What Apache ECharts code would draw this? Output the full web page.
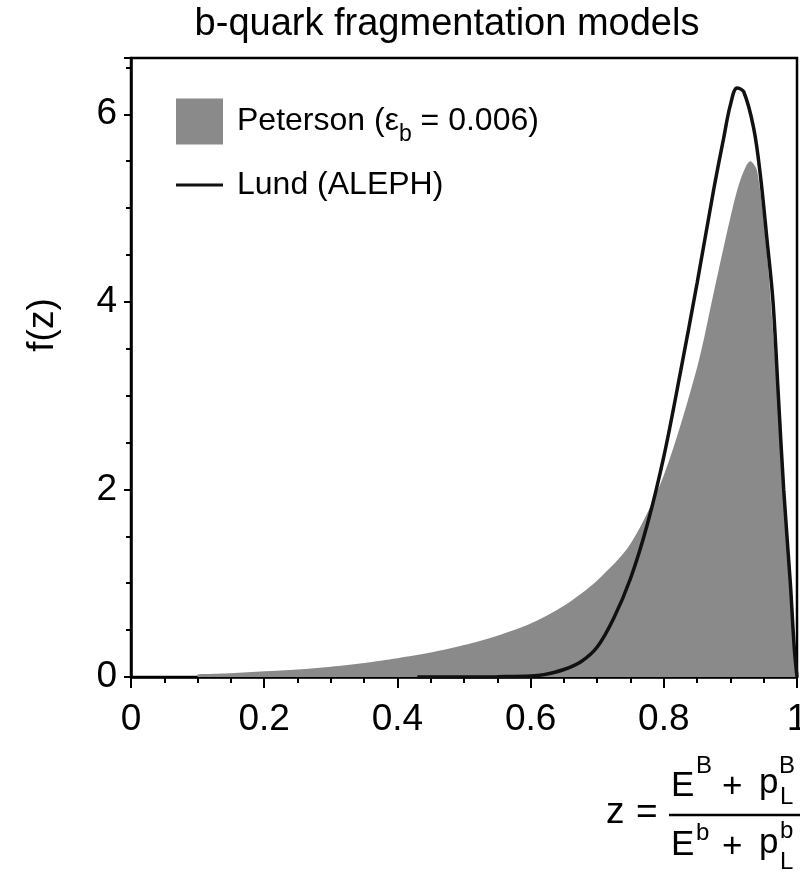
<!DOCTYPE html>
<html>
<head>
<meta charset="utf-8">
<title>b-quark fragmentation models</title>
<script src="https://cdn.jsdelivr.net/npm/echarts@6/dist/echarts.min.js"></script>
<style>
  html, body { margin: 0; padding: 0; background: #fff; }
  #chart { width: 800px; height: 875px; }
</style>
</head>
<body>
<div id="chart"></div>
<script>
// Peterson fragmentation function (epsilon_b = 0.006), shaded area
const petersonZ = [0.10, 0.15, 0.20, 0.25, 0.30, 0.35, 0.40, 0.45, 0.50, 0.55, 0.60, 0.65, 0.70, 0.75, 0.80, 0.85, 0.875, 0.90, 0.915, 0.93, 0.94, 0.953, 0.965, 0.977, 0.988, 0.995, 1.0];
const petersonF = [0.03, 0.04, 0.06, 0.08, 0.11, 0.15, 0.20, 0.26, 0.34, 0.44, 0.57, 0.76, 1.03, 1.42, 2.15, 3.30, 4.10, 4.90, 5.30, 5.50, 5.40, 4.66, 3.60, 2.40, 1.25, 0.50, 0.0];

// Lund string fragmentation (ALEPH tune), solid curve
const lundZ = [0.43, 0.50, 0.55, 0.60, 0.62, 0.65, 0.675, 0.70, 0.725, 0.75, 0.775, 0.80, 0.825, 0.85, 0.875, 0.89, 0.90, 0.91, 0.92, 0.935, 0.945, 0.955, 0.964, 0.972, 0.98, 0.99, 0.996, 1.0];
const lundF = [0.0, 0.0, 0.003, 0.01, 0.025, 0.08, 0.16, 0.32, 0.63, 1.05, 1.62, 2.35, 3.25, 4.20, 5.20, 5.75, 6.10, 6.28, 6.24, 5.85, 5.35, 4.66, 4.00, 3.00, 2.00, 1.00, 0.30, 0.0];

// axis ticks
const xTicks = [0, 0.2, 0.4, 0.6, 0.8, 1];
const yTicks = [0, 2, 4, 6];

const FONT = '"Liberation Sans", Arial, Helvetica, sans-serif';

const petersonData = petersonZ.map((z, i) => [z, petersonF[i]]);
const lundData = lundZ.map((z, i) => [z, lundF[i]]);

const chart = echarts.init(document.getElementById('chart'), null, { renderer: 'canvas' });

// pieces of the z definition below the x axis
const formulaPieces = [
  { t: 'z', x: 606, y: 813, s: 37 },
  { t: '=', x: 636, y: 813, s: 37 },
  { t: 'E', x: 671, y: 786, s: 35 },
  { t: 'B', x: 696, y: 766, s: 24 },
  { t: '+', x: 722, y: 787, s: 35 },
  { t: 'p', x: 759, y: 783, s: 35 },
  { t: 'B', x: 779, y: 766, s: 24 },
  { t: 'L', x: 780, y: 797, s: 24 },
  { t: 'E', x: 671, y: 845, s: 35 },
  { t: 'b', x: 696, y: 833, s: 24 },
  { t: '+', x: 722, y: 847, s: 35 },
  { t: 'p', x: 759, y: 843, s: 35 },
  { t: 'b', x: 780, y: 831, s: 24 },
  { t: 'L', x: 780, y: 862, s: 24 }
];

const graphics = formulaPieces.map(p => ({
  type: 'text',
  x: p.x,
  y: p.y,
  style: {
    text: p.t,
    fill: '#000',
    font: p.s + 'px ' + FONT,
    align: 'left',
    verticalAlign: 'middle'
  }
}));
graphics.push({
  type: 'line',
  shape: { x1: 669, y1: 815, x2: 800, y2: 815 },
  style: { stroke: '#000', lineWidth: 2.5 }
});
graphics.push({
  type: 'text',
  x: 43,
  y: 325,
  rotation: Math.PI / 2,
  style: {
    text: 'f(z)',
    fill: '#000',
    font: '37px ' + FONT,
    align: 'center',
    verticalAlign: 'middle'
  }
});

const option = {
  animation: false,
  backgroundColor: '#fff',
  textStyle: { fontFamily: FONT, color: '#000' },
  title: {
    text: 'b-quark fragmentation models',
    left: 442,
    textAlign: 'center',
    top: 1,
    textStyle: { fontFamily: FONT, fontSize: 38, fontWeight: 'normal', color: '#000' }
  },
  legend: [
    {
      data: ['Peterson'],
      left: 171,
      top: 92,
      orient: 'vertical',
      itemWidth: 47,
      itemHeight: 46,
      icon: 'rect',
      selectedMode: false,
      formatter: () => '{n|Peterson (ε}{sub|b}{n| = 0.006)}',
      textStyle: {
        padding: [0, 0, 0, 9],
        rich: {
          n: { fontFamily: FONT, fontSize: 32, color: '#000', lineHeight: 36 },
          sub: { fontFamily: FONT, fontSize: 23, color: '#000', lineHeight: 24, padding: [26, 0, 0, 0] }
        }
      }
    },
    {
      data: ['Lund (ALEPH)'],
      left: 171,
      top: 164,
      itemWidth: 47,
      itemHeight: 3,
      icon: 'rect',
      selectedMode: false,
      textStyle: { fontFamily: FONT, fontSize: 32, color: '#000', padding: [0, 0, 0, 9] }
    }
  ],
  grid: {
    left: 131,
    right: 3,
    top: 58,
    bottom: 198,
    show: true,
    containLabel: false,
    outerBoundsMode: 'none',
    borderColor: '#000',
    borderWidth: 2.5,
    backgroundColor: 'transparent'
  },
  xAxis: {
    type: 'value',
    min: xTicks[0],
    max: xTicks[xTicks.length - 1],
    interval: 0.2,
    axisLine: { show: true, onZero: false, lineStyle: { color: '#000', width: 2.5 } },
    axisTick: { show: true, length: 11, lineStyle: { color: '#000', width: 2 } },
    minorTick: { show: true, splitNumber: 4, length: 6, lineStyle: { color: '#000', width: 2 } },
    splitLine: { show: false },
    axisLabel: {
      margin: 24,
      fontSize: 37,
      fontFamily: FONT,
      color: '#000',
      formatter: v => String(+v.toFixed(1))
    }
  },
  yAxis: {
    type: 'value',
    min: yTicks[0],
    max: 6.6,
    interval: 2,
    axisLine: { show: true, onZero: false, lineStyle: { color: '#000', width: 2.5 } },
    axisTick: { show: true, length: 7, lineStyle: { color: '#000', width: 2 } },
    minorTick: { show: true, splitNumber: 4, length: 5, lineStyle: { color: '#000', width: 2 } },
    splitLine: { show: false },
    axisLabel: {
      margin: 14,
      fontSize: 37,
      fontFamily: FONT,
      color: '#000',
      showMaxLabel: false
    }
  },
  series: [
    {
      name: 'Peterson',
      type: 'line',
      data: petersonData,
      showSymbol: false,
      smooth: 0.3,
      color: '#8a8a8a',
      lineStyle: { width: 0, color: '#8a8a8a' },
      areaStyle: { color: '#8a8a8a', opacity: 1 },
      itemStyle: { color: '#8a8a8a' },
      z: 2
    },
    {
      name: 'Lund (ALEPH)',
      type: 'line',
      data: lundData,
      showSymbol: false,
      smooth: 0.35,
      color: '#111',
      lineStyle: { width: 3.5, color: '#111' },
      itemStyle: { color: '#111' },
      z: 3
    }
  ],
  graphic: graphics
};

chart.setOption(option);
</script>
</body>
</html>
